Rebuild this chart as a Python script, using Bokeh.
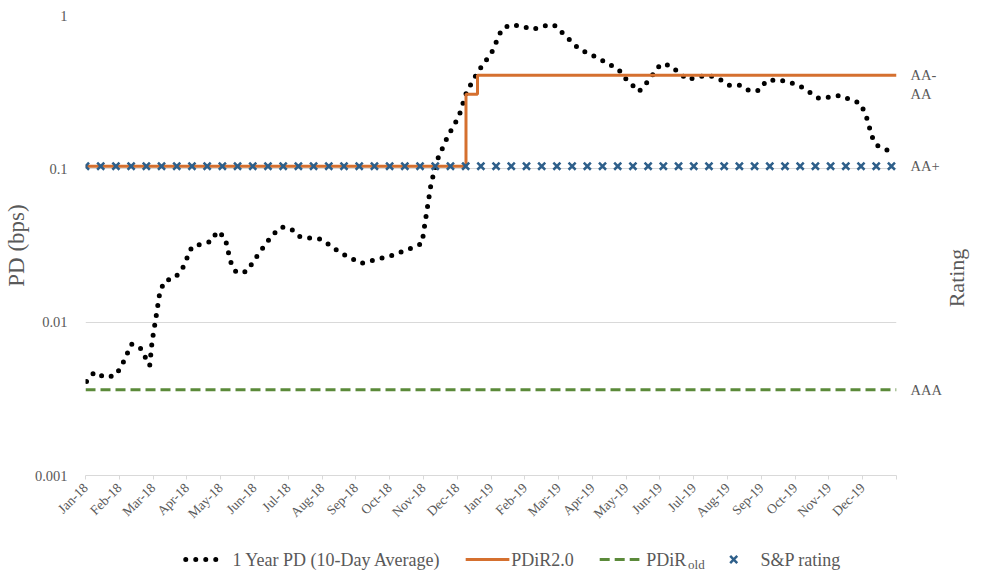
import math
from bokeh.plotting import figure
from bokeh.models import Range1d, FixedTicker, LogAxis
from bokeh.layouts import column
from bokeh.core.properties import value
from bokeh.embed import file_html
from bokeh.resources import INLINE

# ---------------- data ----------------
month_labels = ["Jan-18", "Feb-18", "Mar-18", "Apr-18", "May-18", "Jun-18", "Jul-18", "Aug-18",
                "Sep-18", "Oct-18", "Nov-18", "Dec-18", "Jan-19", "Feb-19", "Mar-19", "Apr-19",
                "May-19", "Jun-19", "Jul-19", "Aug-19", "Sep-19", "Oct-19", "Nov-19", "Dec-19"]

# 1 Year PD (10-day average), x in months since Jan-18
pd_month = [0.03, 0.26, 0.58, 0.89, 1.07, 1.36, 1.61, 1.90, 1.97, 2.09, 2.20, 2.34, 2.64, 2.86,
            3.15, 3.72, 3.90, 4.13, 4.29, 4.46, 4.77, 5.14, 5.53, 5.81, 6.09, 6.35, 6.99, 7.54,
            8.16, 8.45, 9.07, 9.66, 9.96, 10.01, 10.23, 10.43, 10.72, 11.05, 11.28, 11.61, 12.02,
            12.32, 12.58, 12.90, 13.23, 13.54, 13.86, 14.10, 14.60, 15.20, 15.78, 15.98, 16.38,
            16.63, 17.02, 17.30, 17.82, 18.16, 18.48, 18.78, 19.05, 19.37, 19.66, 19.95, 20.14,
            20.47, 20.79, 21.12, 21.41, 21.70, 22.02, 22.35, 22.63, 22.91, 23.08, 23.28, 23.45,
            23.77]
pd_value = [0.00411, 0.00471, 0.00437, 0.00449, 0.00518, 0.00718, 0.00686, 0.00521, 0.00747,
            0.0109, 0.0157, 0.0186, 0.0194, 0.0221, 0.0311, 0.0336, 0.0392, 0.0356, 0.0249,
            0.0211, 0.0214, 0.0283, 0.0371, 0.0418, 0.0405, 0.0360, 0.0347, 0.0284, 0.0242,
            0.0251, 0.0272, 0.0305, 0.0326, 0.0392, 0.0809, 0.117, 0.163, 0.220, 0.318, 0.429,
            0.574, 0.814, 0.871, 0.852, 0.810, 0.855, 0.871, 0.775, 0.606, 0.523, 0.444, 0.388,
            0.319, 0.369, 0.481, 0.473, 0.381, 0.400, 0.405, 0.382, 0.351, 0.351, 0.322, 0.325,
            0.374, 0.382, 0.369, 0.349, 0.318, 0.289, 0.294, 0.301, 0.283, 0.269, 0.230, 0.1615,
            0.141, 0.131]

rating_names = ["AAA", "AA+", "AA", "AA-"]
rating_pd = [0.00363, 0.104, 0.307, 0.408]

pdir2_month = [0, 11.26, 11.60, 24.0]
pdir2_rating = ["AA+", "AA", "AA-", "AA-"]

pdirold_month = [0, 24.0]
pdirold_rating = ["AAA", "AAA"]

sp_count = 54
sp_rating = ["AA+"] * sp_count
sp_month = [i * 0.45 for i in range(sp_count)]

y_ticks = [0.001, 0.01, 0.1, 1]
y_tick_labels = ["0.001", "0.01", "0.1", "1"]

legend_labels = ["1 Year PD (10-Day Average)", "PDiR2.0", "PDiR", "S&P rating"]
legend_sub = "old"

right_title = "Rating"
right_title_at = 0.0125   # level on the PD scale where the rotated title sits

# ---------------- styling ----------------
FONT = "Liberation Serif"
GRAY = "#595959"
GRID = "#d9d9d9"
ORANGE = "#D5702F"
GREEN = "#5B8A3A"
BLUE = "#2E5F8A"

PD_STYLE = dict(line_color="black", line_width=5, line_cap="round", line_join="round",
                line_dash="0 10")
OLD_STYLE = dict(line_color=GREEN, line_width=3, line_dash="10 5")
NEW_STYLE = dict(line_color=ORANGE, line_width=3)
SP_STYLE = dict(marker="x", size=10, line_color=BLUE, line_width=2.5)

rmap = dict(zip(rating_names, rating_pd))

W, H_MAIN, H_LEG = 984, 530, 44
FL, FR = 85, 902   # frame left / right in page pixels

p = figure(width=W, height=H_MAIN, y_axis_type="log", output_backend="svg", toolbar_location=None,
           x_range=Range1d(0, 24), y_range=Range1d(0.001, 1),
           min_border_left=FL, min_border_right=W - FR, min_border_top=15, min_border_bottom=55)
p.outline_line_color = None
p.background_fill_color = "white"
p.border_fill_color = "white"

# x axis
xa = p.xaxis[0]
xa.ticker = FixedTicker(ticks=list(range(25)))
xa.major_label_overrides = {i: (month_labels[i] if i < 24 else "") for i in range(25)}
xa.major_label_orientation = math.pi / 4
xa.major_label_text_font = FONT
xa.major_label_text_font_size = "13.5px"
xa.major_label_text_color = GRAY
xa.major_label_standoff = 6
xa.axis_line_color = GRID
xa.major_tick_line_color = GRID
xa.major_tick_out = 4
xa.major_tick_in = 0
xa.minor_tick_line_color = None

# left y axis
ya = p.yaxis[0]
ya.ticker = FixedTicker(ticks=y_ticks)
ya.major_label_overrides = dict(zip(y_ticks, y_tick_labels))
ya.major_label_text_font = FONT
ya.major_label_text_font_size = "14.5px"
ya.major_label_text_color = GRAY
ya.major_label_standoff = 12
ya.axis_line_color = None
ya.major_tick_line_color = None
ya.minor_tick_line_color = None
ya.axis_label = "PD (bps)"
ya.axis_label_text_font = FONT
ya.axis_label_text_font_size = "23px"
ya.axis_label_text_font_style = "normal"
ya.axis_label_text_color = GRAY
ya.axis_label_standoff = 3

p.xgrid.grid_line_color = None
p.ygrid.ticker = FixedTicker(ticks=y_ticks)
p.ygrid.grid_line_color = GRID
p.ygrid.grid_line_width = 1

# right rating axis
ra = LogAxis(ticker=FixedTicker(ticks=rating_pd))
ra.major_label_overrides = dict(zip(rating_pd, rating_names))
ra.major_label_text_font = FONT
ra.major_label_text_font_size = "14.5px"
ra.major_label_text_color = GRAY
ra.major_label_standoff = 8
ra.axis_line_color = None
ra.major_tick_line_color = None
ra.minor_tick_line_color = None
p.add_layout(ra, "right")

# right title as a rotated single label of an outer axis
rt = LogAxis(ticker=FixedTicker(ticks=[right_title_at]))
rt.major_label_overrides = {right_title_at: right_title}
rt.major_label_orientation = math.pi / 2
rt.major_label_text_font = FONT
rt.major_label_text_font_size = "22px"
rt.major_label_text_line_height = 0.9
rt.major_label_text_color = GRAY
rt.major_label_standoff = 6
rt.axis_line_color = None
rt.major_tick_line_color = None
rt.minor_tick_line_color = None
p.add_layout(rt, "right")

# series
p.line(pd_month, pd_value, **PD_STYLE)
p.line(pdirold_month, [rmap[r] for r in pdirold_rating], **OLD_STYLE)
p.step(pdir2_month, [rmap[r] for r in pdir2_rating], mode="after", **NEW_STYLE)
p.scatter(sp_month, [rmap[r] for r in sp_rating], **SP_STYLE)

# ---------------- legend strip (x in page pixels, frame aligned with the chart) ----------------
leg = figure(width=W, height=H_LEG, output_backend="svg", toolbar_location=None,
             x_range=Range1d(FL, FR), y_range=Range1d(H_LEG, 0),
             x_axis_location=None, y_axis_location=None,
             min_border_left=FL, min_border_right=W - FR,
             min_border_top=0, min_border_bottom=0)
leg.outline_line_color = None
leg.grid.grid_line_color = None
leg.background_fill_color = "white"
leg.border_fill_color = "white"

ly = 29
leg.line([186, 222], [ly, ly], **PD_STYLE)
leg.line([468, 512], [ly, ly], **NEW_STYLE)
leg.line([603, 643], [ly, ly], **OLD_STYLE)
leg.scatter([738], [ly], **SP_STYLE)
leg.text(x=[233, 514, 650, 765], y=[ly, ly, ly, ly], text=legend_labels,
         text_font=value(FONT), text_font_size="18px", text_color=GRAY,
         text_baseline="middle", text_align="left")
leg.text(x=[692], y=[ly + 5], text=[legend_sub], text_font=value(FONT),
         text_font_size="13px", text_color=GRAY, text_baseline="middle", text_align="left")

open("out.html", "w").write(file_html(column(p, leg, spacing=0), INLINE))
